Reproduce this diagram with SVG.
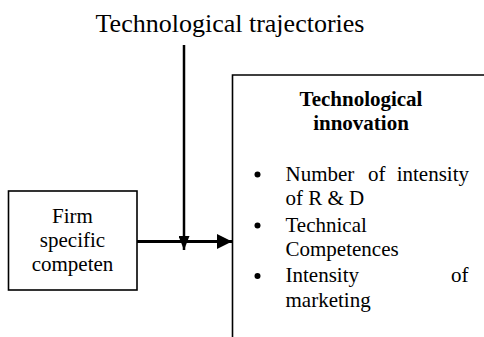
<svg xmlns="http://www.w3.org/2000/svg" width="484" height="337" viewBox="0 0 484 337">
<defs>
<style>
text{fill:#000}
.t{font-size:26px}
.b{font-size:21px;font-weight:bold}
.n{font-size:21px}
.box{fill:#fff;stroke:#000;stroke-width:1.6}
.ln{stroke:#000;fill:none}
</style>
<marker id="ah" viewBox="0 0 15 15" refX="15" refY="7.5" markerWidth="15" markerHeight="15" markerUnits="userSpaceOnUse" orient="auto">
<path d="M0,0 L15,7.5 L0,15 Z" fill="#000"/>
</marker>
<marker id="av" viewBox="0 0 14 11" refX="14" refY="5.5" markerWidth="14" markerHeight="11" markerUnits="userSpaceOnUse" orient="auto">
<path d="M0,0 L14,5.5 L0,11 Z" fill="#000"/>
</marker>
</defs>
<g font-family="'Liberation Serif', 'Times New Roman', serif">
<g id="title">
<text class="t" x="230" y="32" text-anchor="middle">Technological trajectories</text>
</g>
<g id="innovation">
<path class="ln" d="M232.5,337 V75 H484" stroke-width="1.6"/>
<text class="b" x="361" y="106" text-anchor="middle">Technological</text>
<text class="b" x="361" y="130" text-anchor="middle">innovation</text>
<circle cx="257.5" cy="174.5" r="3"/>
<circle cx="257.5" cy="225.5" r="3"/>
<circle cx="257.5" cy="276" r="3"/>
<text class="n" y="181"><tspan x="285.5">Number</tspan><tspan x="368">of</tspan><tspan x="469" text-anchor="end">intensity</tspan></text>
<text class="n" x="285.5" y="205">of R &amp; D</text>
<text class="n" x="285.5" y="232">Technical</text>
<text class="n" x="285.5" y="256">Competences</text>
<text class="n" y="282"><tspan x="285.5">Intensity</tspan><tspan x="468.5" text-anchor="end">of</tspan></text>
<text class="n" x="285.5" y="307">marketing</text>
</g>
<g id="firm">
<rect class="box" x="8.5" y="191" width="128.5" height="99"/>
<text class="n" x="72.5" y="223" text-anchor="middle">Firm</text>
<text class="n" x="72.5" y="247" text-anchor="middle">specific</text>
<text class="n" x="72.5" y="271" text-anchor="middle">competen</text>
</g>
</g>
<g id="connectors">
<line class="ln" x1="137" y1="241.5" x2="232" y2="241.5" stroke-width="3" marker-end="url(#ah)"/>
<line class="ln" x1="184" y1="45" x2="184" y2="250" stroke-width="2.5" marker-end="url(#av)"/>
</g>
</svg>
